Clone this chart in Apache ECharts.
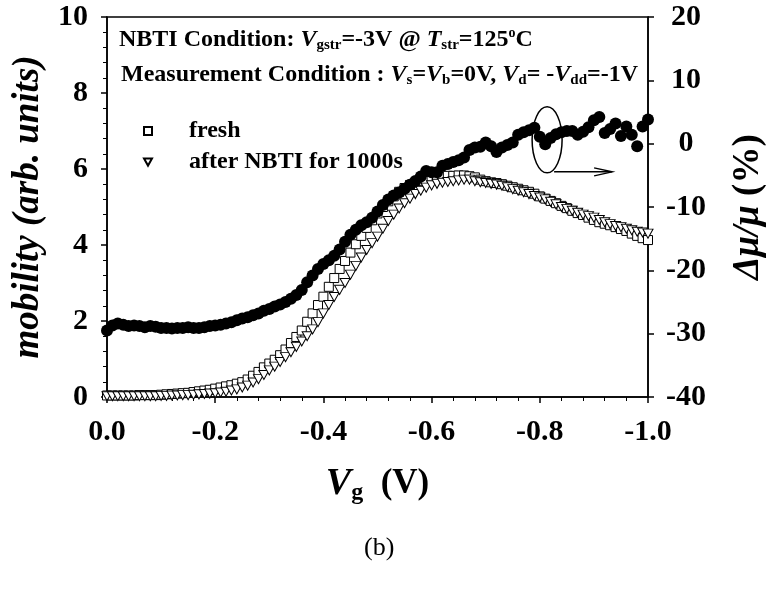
<!DOCTYPE html>
<html><head><meta charset="utf-8">
<script src="https://cdn.jsdelivr.net/npm/echarts@6/dist/echarts.min.js"></script>
<style>html,body{margin:0;padding:0;background:#fff}#c{width:768px;height:589px}</style>
</head><body><div id="c"></div>
<script>
// Gate voltage (V)
const vg = [0,-0.01,-0.02,-0.03,-0.04,-0.05,-0.06,-0.07,-0.08,-0.09,
 -0.10,-0.11,-0.12,-0.13,-0.14,-0.15,-0.16,-0.17,-0.18,-0.19,
 -0.20,-0.21,-0.22,-0.23,-0.24,-0.25,-0.26,-0.27,-0.28,-0.29,
 -0.30,-0.31,-0.32,-0.33,-0.34,-0.35,-0.36,-0.37,-0.38,-0.39,
 -0.40,-0.41,-0.42,-0.43,-0.44,-0.45,-0.46,-0.47,-0.48,-0.49,
 -0.50,-0.51,-0.52,-0.53,-0.54,-0.55,-0.56,-0.57,-0.58,-0.59,
 -0.60,-0.61,-0.62,-0.63,-0.64,-0.65,-0.66,-0.67,-0.68,-0.69,
 -0.70,-0.71,-0.72,-0.73,-0.74,-0.75,-0.76,-0.77,-0.78,-0.79,
 -0.80,-0.81,-0.82,-0.83,-0.84,-0.85,-0.86,-0.87,-0.88,-0.89,
 -0.90,-0.91,-0.92,-0.93,-0.94,-0.95,-0.96,-0.97,-0.98,-0.99,
 -1.00];
// mobility, fresh (arb. units)
const fresh = [0.04,0.04,0.04,0.04,0.04,0.04,0.05,0.05,0.05,0.05,
 0.06,0.07,0.08,0.09,0.10,0.11,0.13,0.15,0.17,0.19,
 0.22,0.25,0.28,0.31,0.35,0.39,0.46,0.56,0.66,0.78,
 0.88,0.98,1.10,1.25,1.42,1.58,1.75,1.98,2.20,2.42,
 2.64,2.90,3.13,3.37,3.58,3.80,4.02,4.24,4.45,4.65,
 4.83,5.00,5.15,5.28,5.40,5.50,5.58,5.64,5.69,5.72,
 5.76,5.78,5.80,5.82,5.82,5.83,5.83,5.81,5.78,5.72,
 5.68,5.65,5.63,5.60,5.56,5.52,5.48,5.44,5.40,5.35,
 5.28,5.22,5.16,5.10,5.03,4.97,4.90,4.84,4.79,4.72,
 4.66,4.60,4.56,4.52,4.47,4.42,4.37,4.30,4.24,4.18,
 4.13];
// mobility, after NBTI for 1000 s (arb. units)
const afterNBTI = [0.02,0.02,0.02,0.02,0.02,0.02,0.02,0.02,0.02,0.02,
 0.03,0.03,0.04,0.04,0.05,0.05,0.06,0.07,0.08,0.09,
 0.10,0.12,0.14,0.17,0.20,0.25,0.30,0.38,0.47,0.58,
 0.70,0.80,0.92,1.05,1.18,1.32,1.46,1.60,1.78,1.97,
 2.20,2.42,2.63,2.82,3.00,3.22,3.45,3.67,3.87,4.05,
 4.22,4.43,4.63,4.80,4.96,5.10,5.22,5.34,5.43,5.51,
 5.57,5.61,5.64,5.66,5.68,5.70,5.72,5.72,5.68,5.65,
 5.63,5.61,5.59,5.56,5.52,5.47,5.43,5.39,5.34,5.29,
 5.25,5.20,5.14,5.07,5.00,4.95,4.90,4.85,4.80,4.76,
 4.72,4.66,4.60,4.55,4.50,4.47,4.43,4.39,4.35,4.33,
 4.30];
// delta mu / mu (%)
const dmu = [-29.5,-28.7,-28.4,-28.6,-28.8,-28.7,-28.8,-29.0,-28.8,-28.9,
 -29.1,-29.1,-29.2,-29.1,-29.1,-29.0,-29.1,-29.1,-29.0,-28.8,
 -28.7,-28.6,-28.4,-28.2,-27.9,-27.6,-27.4,-27.1,-26.8,-26.4,
 -26.1,-25.7,-25.4,-25.0,-24.5,-23.9,-23.1,-21.9,-20.8,-19.8,
 -19.0,-18.4,-17.7,-16.7,-15.5,-14.4,-13.6,-12.9,-12.4,-11.7,
 -10.7,-9.7,-8.8,-8.2,-7.7,-7.1,-6.5,-5.9,-5.2,-4.3,
 -4.5,-4.5,-3.5,-3.2,-2.9,-2.6,-2.2,-1.0,-0.6,-0.5,
 0.2,-0.4,-1.3,-0.6,-0.2,0.2,1.4,1.8,2.1,2.5,
 1.1,-0.1,0.9,1.5,1.8,2.0,2.0,1.4,1.9,2.6,
 3.7,4.2,1.7,2.3,3.2,1.2,2.7,1.4,-0.4,2.7,
 3.8];
const legendNames = ['fresh', 'after NBTI for 1000s'];

const F = 'Liberation Serif';
const tri = 'path://M0,0 L10,0 L5,9 Z';
const pair = (a) => vg.map((x, i) => [x, a[i]]);

const base = {fontFamily: F, fontWeight: 'bold', color: '#000'};
const ann = {
  b: Object.assign({}, base, {fontSize: 24, lineHeight: 30}),
  i: Object.assign({}, base, {fontSize: 24, lineHeight: 30, fontStyle: 'italic'}),
  sub: Object.assign({}, base, {fontSize: 15, lineHeight: 30, padding: [10, 0, 0, 0]}),
  sup: Object.assign({}, base, {fontSize: 14, lineHeight: 30, padding: [0, 0, 14, 0]})
};
const axisTxt = Object.assign({}, base, {fontSize: 30});

const chart = echarts.init(document.getElementById('c'), null, {renderer: 'canvas'});
const option = {
  backgroundColor: '#fff',
  animation: false,
  grid: {left: 107, right: 120, top: 17, bottom: 192, show: true, borderColor: '#000', borderWidth: 1.5, outerBoundsMode: 'none'},
  title: [
    {text: '{b|NBTI Condition: }{i|V}{sub|gstr}{b|=-3V @ }{i|T}{sub|str}{b|=125}{sup|o}{b|C}',
     left: 119, top: 25, padding: 0, textStyle: {rich: ann}},
    {text: '{b|Measurement Condition : }{i|V}{sub|s}{b|=}{i|V}{sub|b}{b|=0V, }{i|V}{sub|d}{b|= -}{i|V}{sub|dd}{b|=-1V}',
     left: 121, top: 60, padding: 0, textStyle: {rich: ann}},
    {text: '(b)', left: 364, top: 535, padding: 0,
     textStyle: {fontFamily: F, fontWeight: 'normal', fontSize: 26, color: '#000'}}
  ],
  legend: {
    orient: 'vertical', left: 143, top: 119, itemWidth: 8, itemHeight: 8, itemGap: 7, padding: 0,
    data: [{name: legendNames[0], icon: 'rect'}, {name: legendNames[1], icon: tri}],
    itemStyle: {opacity: 1},
    textStyle: Object.assign({}, base, {fontSize: 24, padding: [0, 0, 0, 32]})
  },
  xAxis: {
    type: 'value', min: -1, max: 0, interval: 0.2, inverse: true,
    axisLine: {lineStyle: {color: '#000', width: 1.5}},
    axisTick: {length: 6, lineStyle: {color: '#000', width: 1.5}},
    minorTick: {show: true, splitNumber: 5, length: 4, lineStyle: {color: '#000', width: 1}},
    splitLine: {show: false},
    axisLabel: Object.assign({}, axisTxt, {margin: 20, formatter: (v) => v.toFixed(1)}),
    name: '{i|V}{sub|g}{b|  (V)}', nameLocation: 'middle', nameGap: 65,
    nameTextStyle: {rich: {
      i: Object.assign({}, base, {fontSize: 38, fontStyle: 'italic', lineHeight: 44}),
      sub: Object.assign({}, base, {fontSize: 24, lineHeight: 44, padding: [18, 0, 0, 0]}),
      b: Object.assign({}, base, {fontSize: 35, lineHeight: 44})
    }}
  },
  yAxis: [
    {
      type: 'value', min: 0, max: 10, interval: 2, position: 'left',
      axisLine: {show: true, lineStyle: {color: '#000', width: 1.5}},
      axisTick: {show: true, length: 6, lineStyle: {color: '#000', width: 1.5}},
      minorTick: {show: true, splitNumber: 5, length: 4, lineStyle: {color: '#000', width: 1}},
      splitLine: {show: false},
      axisLabel: Object.assign({}, axisTxt, {margin: 19}),
      name: '{i|mobility (arb. units)}', nameLocation: 'middle', nameRotate: 90, nameGap: 58,
      nameTextStyle: {rich: {i: Object.assign({}, base, {fontSize: 37, fontStyle: 'italic'})}}
    },
    {
      type: 'value', min: -40, max: 20, interval: 10, position: 'right',
      axisLine: {show: true, lineStyle: {color: '#000', width: 1.5}},
      axisTick: {show: true, length: 6, lineStyle: {color: '#000', width: 1.5}},
      splitLine: {show: false},
      axisLabel: Object.assign({}, axisTxt, {margin: 38, align: 'center'}),
      name: '{i|Δμ/μ}{b| (%)}', nameLocation: 'middle', nameRotate: 90, nameGap: 82,
      nameTextStyle: {rich: {
        i: Object.assign({}, base, {fontSize: 37, fontStyle: 'italic'}),
        b: Object.assign({}, base, {fontSize: 37})
      }}
    }
  ],
  series: [
    {name: legendNames[0], type: 'scatter', yAxisIndex: 0, data: pair(fresh),
     symbol: 'rect', symbolSize: 9,
     itemStyle: {color: '#fff', borderColor: '#000', borderWidth: 1, opacity: 1}},
    {name: legendNames[1], type: 'scatter', yAxisIndex: 0, data: pair(afterNBTI),
     symbol: tri, symbolSize: [10, 9],
     itemStyle: {color: '#fff', borderColor: '#000', borderWidth: 1, opacity: 1}},
    {name: 'dmu', type: 'scatter', yAxisIndex: 1, data: pair(dmu),
     symbol: 'circle', symbolSize: 12, itemStyle: {color: '#000', opacity: 1}}
  ]
};
chart.setOption(option);

// ellipse + arrow annotation pointing to the right axis
const c = chart.convertToPixel({xAxisIndex: 0, yAxisIndex: 1}, [-0.8135, 0.6]);
const y0 = c[1] + 32, x0 = c[0] + 7, x1 = c[0] + 65;
chart.setOption({
  graphic: [
    {type: 'ellipse', shape: {cx: c[0], cy: c[1], rx: 15, ry: 33},
     style: {fill: 'none', stroke: '#000', lineWidth: 1.5}, z: 100},
    {type: 'polyline', shape: {points: [[x0, y0], [x1, y0]]},
     style: {stroke: '#000', lineWidth: 1.5, fill: 'none'}, z: 100},
    {type: 'polyline', shape: {points: [[x1 - 18, y0 - 4], [x1, y0], [x1 - 18, y0 + 4]]},
     style: {stroke: '#000', lineWidth: 1.5, fill: 'none'}, z: 100}
  ]
});
</script>
</body></html>
